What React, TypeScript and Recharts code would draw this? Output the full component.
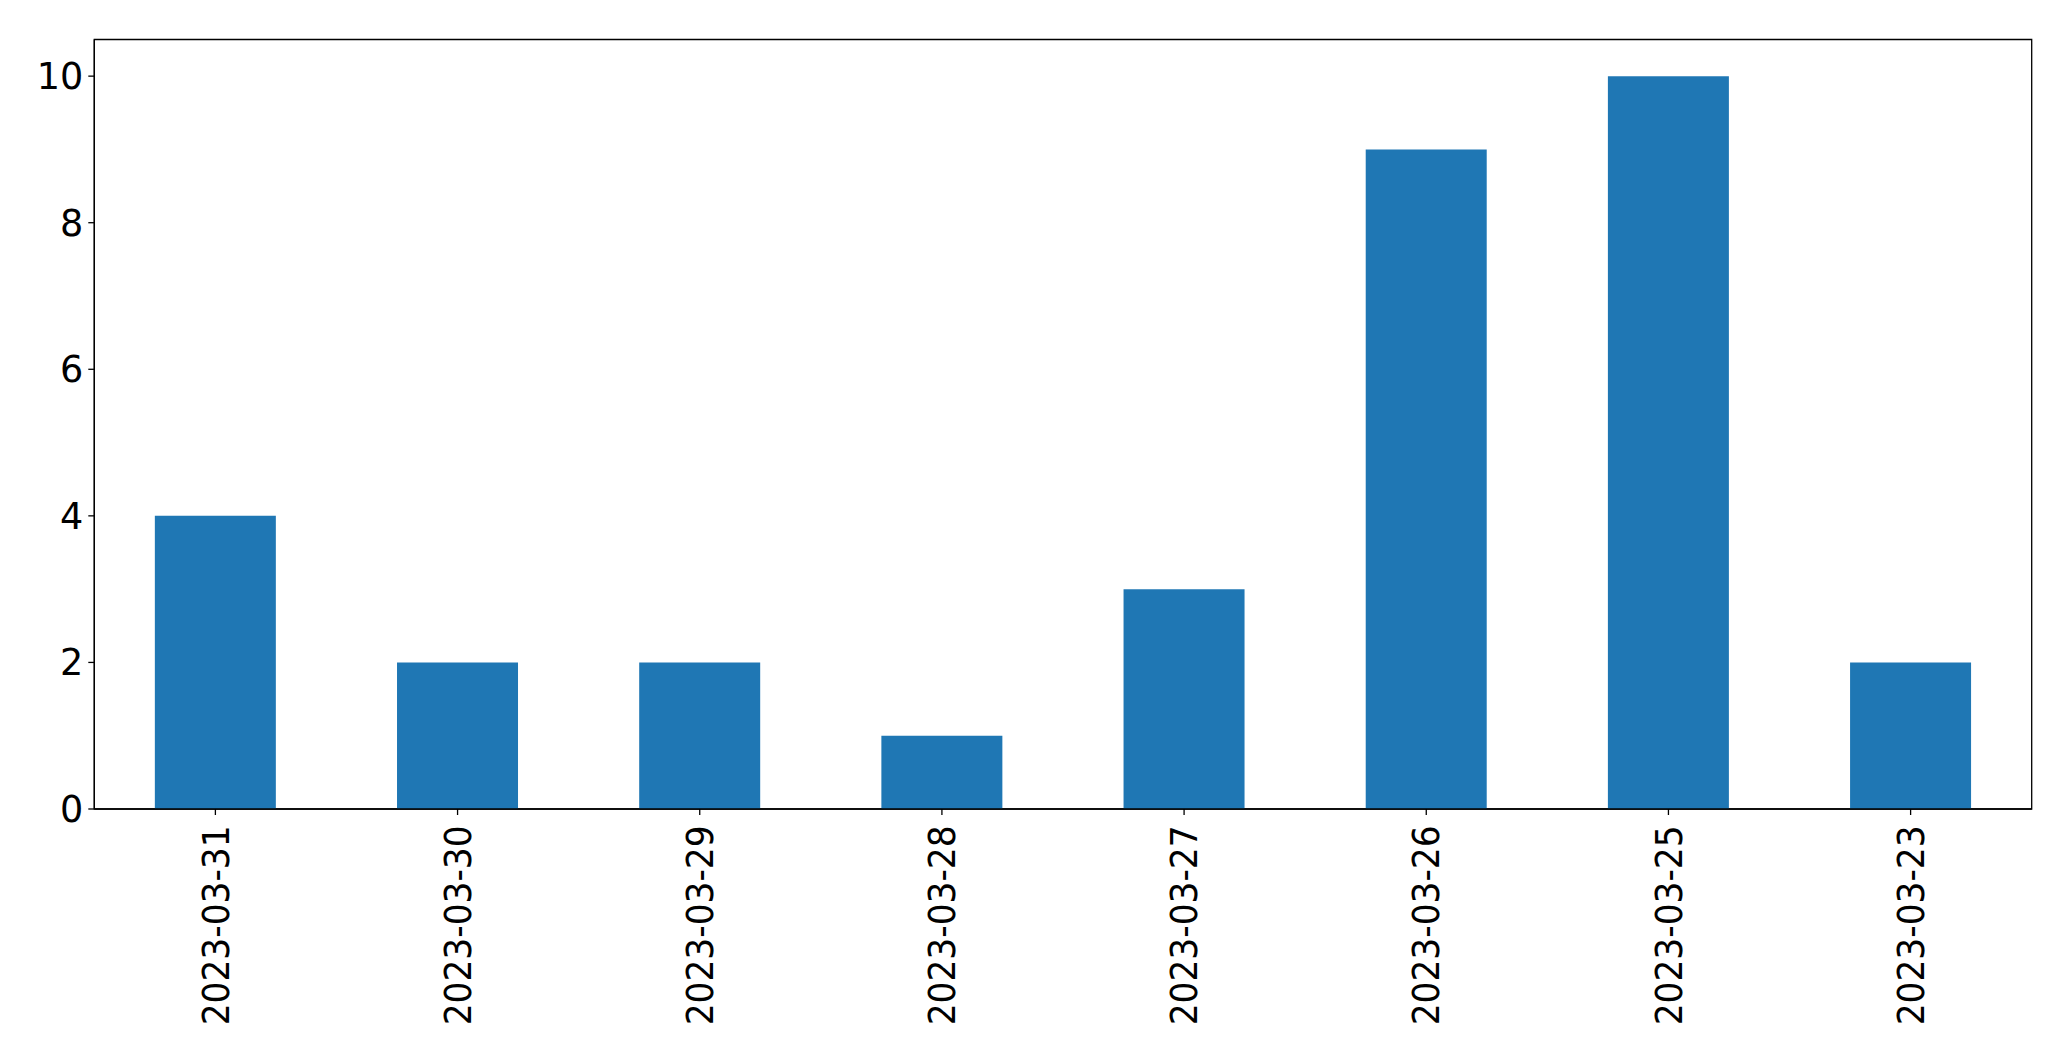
import React from "react";
import { BarChart, Bar, XAxis, YAxis, ReferenceArea } from "recharts";

const categories = ["2023-03-31", "2023-03-30", "2023-03-29", "2023-03-28", "2023-03-27", "2023-03-26", "2023-03-25", "2023-03-23"];
const counts = [4, 2, 2, 1, 3, 9, 10, 2];
const yTicks = [0, 2, 4, 6, 8, 10];

const data = categories.map((c, i) => ({ date: c, count: counts[i] }));

const FONT = "'DejaVu Sans', sans-serif";
const FS = 36.6;

const XTick = (props: any) => {
  const { x, y, payload } = props;
  return (
    <g transform={`translate(${x},${y})`}>
      <text
        transform="rotate(-90) scale(0.94,1)"
        x={-9}
        y={0}
        dy="0.36em"
        textAnchor="end"
        fill="#000"
        fontSize={FS}
        fontFamily={FONT}
      >
        {payload.value}
      </text>
    </g>
  );
};

export default function App() {
  return (
    <div style={{ position: "absolute", left: 0, top: 0, width: 2071, height: 1061, background: "#fff" }}>
      <BarChart
        width={2071}
        height={1061}
        data={data}
        margin={{ top: 39.5, right: 39.3, left: 0, bottom: 0 }}
        barCategoryGap="25%"
      >
        <XAxis
          dataKey="date"
          height={252}
          interval={0}
          tick={<XTick />}
          tickSize={6}
          tickLine={{ stroke: "#000", strokeWidth: 1.3 }}
          axisLine={{ stroke: "#000", strokeWidth: 1.3 }}
        />
        <YAxis
          width={94.3}
          domain={[0, 10.5]}
          ticks={yTicks}
          interval={0}
          tickSize={6}
          tickMargin={5}
          tick={{ fill: "#000", fontSize: FS, fontFamily: FONT }}
          tickLine={{ stroke: "#000", strokeWidth: 1.3 }}
          axisLine={{ stroke: "#000", strokeWidth: 1.3 }}
        />
        <Bar dataKey="count" fill="#1f77b4" isAnimationActive={false} />
        <ReferenceArea
          y1={0}
          y2={10.5}
          fill="none"
          fillOpacity={0}
          stroke="#000"
          strokeWidth={1.3}
          ifOverflow="visible"
        />
      </BarChart>
    </div>
  );
}
